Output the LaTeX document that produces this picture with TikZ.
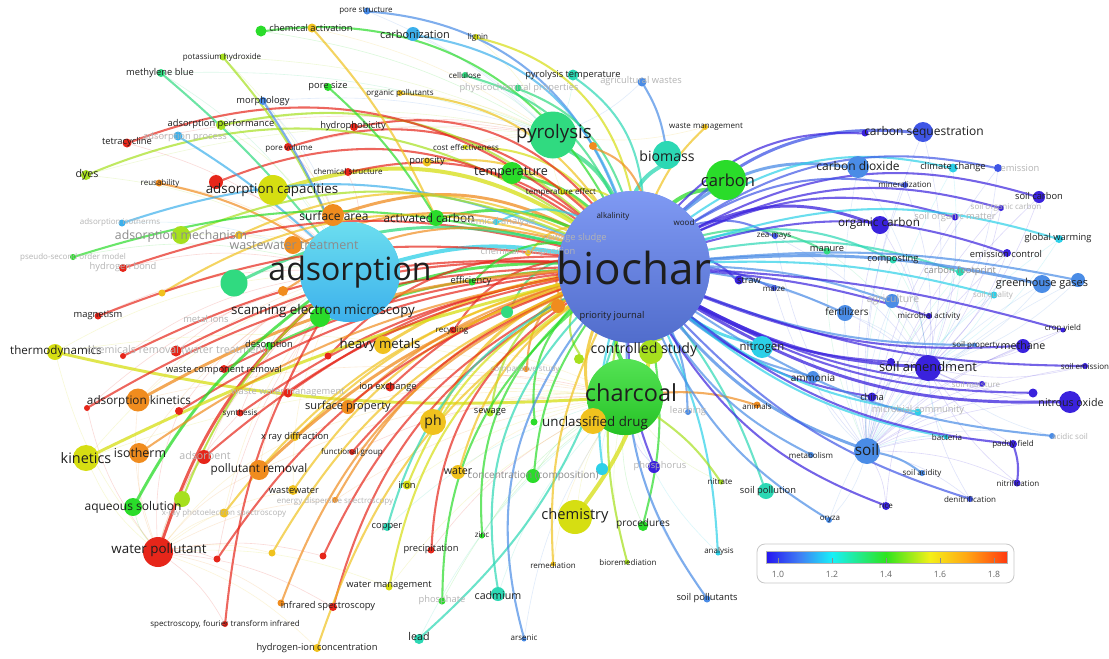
\documentclass[tikz,border=0pt]{standalone}
\usepackage{fontspec}
\setmainfont{Open Sans}
\pgfdeclarelayer{web}
\pgfdeclarelayer{links}
\pgfsetlayers{web,links,main}

% cluster colours (score scale: blue = 1.0 ... red = 1.8)
\definecolor{cV}{HTML}{3A22DD}
\definecolor{cB}{HTML}{3F56E6}
\definecolor{cBc}{HTML}{5F80F0}
\definecolor{cAz}{HTML}{4A8CE6}
\definecolor{cSky}{HTML}{3CB0EC}
\definecolor{cCy}{HTML}{2CD0E8}
\definecolor{cTl}{HTML}{2CD8B4}
\definecolor{cGT}{HTML}{30DA80}
\definecolor{cGr}{HTML}{2ADC2A}
\definecolor{cLm}{HTML}{A6E01E}
\definecolor{cYl}{HTML}{D6DE12}
\definecolor{cGd}{HTML}{F0C21E}
\definecolor{cOr}{HTML}{F08C1E}
\definecolor{cRd}{HTML}{E6261A}
\definecolor{txt}{HTML}{1E1E1E}
\definecolor{fade}{HTML}{B4B4B4}
\definecolor{mid}{HTML}{8C8C8C}

\newcommand\fsz[1]{\fontsize{#1}{#1}\selectfont}
% keyword bubble: [extra]{name}{x}{y}{diameter px}{colour}
\newcommand\kwnode[6][]{\node[kwdot,minimum size=#5*0.75pt,fill=#6,#1] (#2) at (#3,-#4) {};\colorlet{kwc#2}{#6}}
% keyword label: {name}{x}{y}{style}{text}
\newcommand\kwlab[5]{\node[lab,#4] (#1) at (#2,-#3) {#5};}
% links coloured by their source keyword
\newcommand\lnk[3][bend left=24]{\draw[link,draw=kwc#2] (#2) to[#1] (#3);}
\newcommand\mlnk[3][bend left=18]{\draw[midlink,draw=kwc#2] (#2) to[#1] (#3);}
\newcommand\hlnk[3][bend left=15]{\draw[heavy,draw=kwc#2] (#2) to[#1] (#3);}

\tikzset{
  kwdot/.style={circle,inner sep=0pt,outer sep=0pt,draw=none},
  lab/.style={inner sep=0pt,text=txt,font=\fsz{7pt}},
  t1/.style={font=\fsz{6pt}},
  t2/.style={font=\fsz{7pt}},
  t3/.style={font=\fsz{8pt}},
  fs/.style={font=\fsz{#1}},
  fd/.style={text=fade},
  md/.style={text=mid},
  link/.style={line width=1.55pt,opacity=.7,line cap=round},
  midlink/.style={line width=2.2pt,opacity=.75,line cap=round},
  heavy/.style={line width=3pt,opacity=.75,line cap=round},
  faint/.style={line width=.45pt,opacity=.17},
  tick/.style={inner sep=0pt,text=black!60,font=\fsz{6.5pt}}
}

\begin{document}
\begin{tikzpicture}[x=0.75pt,y=0.75pt]
\useasboundingbox (0,0) rectangle (1109,-658);
\clip (0,0) rectangle (1109,-658);

% ---------------- keyword bubbles ----------------
\kwnode[shading=axis,top color=cBc!80!white,bottom color=cBc!85!black]{bc}{634}{267}{152}{cBc}
\kwnode[shading=axis,top color=cCy!70!white,bottom color=cSky]{ads}{350}{272}{100}{cCy}
\kwnode[shading=axis,top color=cGr!80!white,bottom color=cGr!88!black]{cc}{625}{397}{76}{cGr}

\kwnode{porest}{367}{11}{7}{cAz}
\kwnode{gA}{261}{31}{11}{cGr}
\kwnode{chemact}{312}{28}{9}{cGd}
\kwnode{koh}{223}{57}{7}{cLm}
\kwnode{mblue}{161}{73}{8}{cGT}
\kwnode{morph}{263}{101}{8}{cAz}
\kwnode{poresize}{328}{87}{8}{cGr}
\kwnode{orgpol}{400}{93}{6}{cGd}
\kwnode{cellul}{465}{75}{6}{cGT}
\kwnode{lignin}{476}{37}{6}{cYl}
\kwnode{carbz}{413}{34}{14}{cSky}
\kwnode{pyrtemp}{573}{75}{11}{cTl}
\kwnode{phys}{518}{88}{7}{cGT}
\kwnode{agw}{642}{82}{9}{cAz}
\kwnode{wman}{705}{127}{6}{cGd}
\kwnode{pyro}{553}{135}{47}{cGT}
\kwnode{oA}{593}{146}{8}{cOr}
\kwnode{biomass}{667}{155}{28}{cTl}
\kwnode{carbon}{726}{180}{40}{cGr}
\kwnode{costeff}{465}{147}{5}{cYl}
\kwnode{poros}{427}{162}{9}{cGd}
\kwnode{temp}{512}{173}{22}{cGr}
\kwnode{tempeff}{562}{192}{6}{cYl}
\kwnode{hydro}{354}{127}{8}{cRd}
\kwnode{porevol}{288}{147}{8}{cRd}
\kwnode{adsperf}{221}{125}{10}{cLm}
\kwnode{tetra}{127}{143}{9}{cRd}
\kwnode{adsproc}{178}{136}{9}{cSky}
\kwnode{dyes}{86}{175}{10}{cLm}
\kwnode{reus}{159}{183}{7}{cOr}
\kwnode{chemstr}{348}{172}{8}{cRd}
\kwnode{rA}{216}{182}{14}{cRd}
\kwnode{adscap}{273}{190}{30}{cYl}
\kwnode{surfarea}{333}{215}{22}{cOr}
\kwnode{actc}{436}{218}{16}{cGr}
\kwnode{chemanal}{496}{222}{6}{cCy}
\kwnode{chemcomp}{528}{253}{6}{cGd}
\kwnode{adsiso}{122}{223}{7}{cSky}
\kwnode{adsmech}{181}{235}{18}{cLm}
\kwnode{yA}{239}{235}{8}{cGd}
\kwnode{wwt}{293}{245}{18}{cOr}
\kwnode{psso}{73}{257}{6}{cGr}
\kwnode{hbond}{123}{268}{8}{cRd}
\kwnode{gB}{234}{283}{27}{cGT}
\kwnode{oB}{283}{291}{10}{cOr}
\kwnode{oC}{162}{293}{7}{cGd}
\kwnode{sem}{320}{317}{20}{cGr}
\kwnode{magn}{98}{316}{7}{cRd}
\kwnode{thermo}{55}{352}{16}{cYl}
\kwnode{rB}{123}{356}{6}{cRd}
\kwnode{chemrem}{176}{351}{11}{cRd}
\kwnode{desorp}{269}{346}{8}{cGr}
\kwnode{rC}{328}{356}{7}{cRd}
\kwnode{hm}{383}{345}{18}{cGd}
\kwnode{wcr}{224}{369}{8}{cRd}
\kwnode{effic}{472}{282}{7}{cGr}
\kwnode{gC}{507}{312}{12}{cGT}
\kwnode{oD}{558}{306}{14}{cOr}
\kwnode{recyc}{453}{330}{7}{cRd}
\kwnode{ionex}{390}{387}{9}{cRd}
\kwnode{compst}{526}{369}{6}{cOr}
\kwnode{ctrl}{651}{352}{24}{cLm}
\kwnode{gD}{579}{359}{10}{cLm}
\kwnode{adskin}{138}{400}{23}{cOr}
\kwnode{rD}{179}{411}{8}{cRd}
\kwnode{rE}{87}{408}{6}{cRd}
\kwnode{wwm}{288}{393}{9}{cRd}
\kwnode{synth}{240}{413}{7}{cRd}
\kwnode{surfprop}{348}{407}{14}{cOr}
\kwnode{xrd}{295}{437}{8}{cGd}
\kwnode{ph}{433}{422}{26}{cGd}
\kwnode{sewage}{490}{413}{7}{cLm}
\kwnode{gE}{534}{422}{7}{cGr}
\kwnode{unclass}{593}{421}{26}{cGd}
\kwnode{leach}{688}{412}{6}{cAz}
\kwnode{animals}{757}{405}{7}{cOr}
\kwnode{nitro}{762}{347}{22}{cCy}
\kwnode{fert}{845}{313}{16}{cAz}
\kwnode{agri}{892}{301}{14}{cAz}
\kwnode{microact}{929}{316}{6}{cV}
\kwnode{compost}{893}{260}{7}{cTl}
\kwnode{cfoot}{960}{272}{8}{cTl}
\kwnode{manure}{827}{251}{7}{cGT}
\kwnode{zea}{775}{236}{6}{cB}
\kwnode{maize}{774}{288}{6}{cB}
\kwnode{straw}{739}{280}{9}{cV}
\kwnode{orgc}{880}{225}{18}{cV}
\kwnode{som}{955}{217}{7}{cV}
\kwnode{soc}{1001}{208}{6}{cV}
\kwnode{soilc}{1039}{197}{12}{cV}
\kwnode{cseqB}{865}{133}{7}{cV}
\kwnode{cseq}{923}{132}{20}{cB}
\kwnode{co2}{858}{167}{22}{cAz}
\kwnode{climch}{953}{168}{9}{cCy}
\kwnode{emis}{998}{168}{8}{cB}
\kwnode{miner}{905}{185}{6}{cB}
\kwnode{gw}{1059}{239}{8}{cCy}
\kwnode{emctl}{1007}{253}{8}{cV}
\kwnode{ghg}{1042}{284}{18}{cAz}
\kwnode{ghgB}{1078}{280}{14}{cAz}
\kwnode{squal}{994}{295}{7}{cCy}
\kwnode{cropy}{1063}{330}{5}{cV}
\kwnode{sprop}{975}{345}{4}{cAz}
\kwnode{methane}{1023}{346}{14}{cV}
\kwnode{sB}{891}{362}{8}{cV}
\kwnode{samend}{928}{368}{26}{cV}
\kwnode{semis}{1085}{366}{6}{cV}
\kwnode{smoist}{982}{384}{6}{cV}
\kwnode{vA}{1033}{393}{9}{cV}
\kwnode{n2o}{1070}{402}{22}{cV}
\kwnode{ammonia}{813}{377}{12}{cAz}
\kwnode{china}{872}{397}{9}{cV}
\kwnode{microcomm}{918}{412}{7}{cCy}
\kwnode{bact}{946}{437}{5}{cCy}
\kwnode{acid}{1052}{436}{6}{cAz}
\kwnode{paddy}{1013}{444}{8}{cV}
\kwnode{soil}{867}{451}{26}{cAz}
\kwnode{metab}{811}{455}{6}{cAz}
\kwnode{sacid}{922}{473}{6}{cAz}
\kwnode{nitrif}{1017}{483}{7}{cV}
\kwnode{denit}{970}{499}{6}{cB}
\kwnode{rice}{886}{506}{8}{cV}
\kwnode{oryza}{829}{520}{6}{cAz}
\kwnode{spollu}{766}{491}{16}{cTl}
\kwnode{nitrate}{721}{482}{5}{cLm}
\kwnode{phos}{654}{467}{12}{cV}
\kwnode{cyA}{602}{469}{12}{cCy}
\kwnode{analysis}{718}{553}{5}{cCy}
\kwnode{spoll}{707}{599}{7}{cAz}
\kwnode{proced}{643}{526}{10}{cGr}
\kwnode{biorem}{627}{562}{5}{cLm}
\kwnode{chem}{575}{517}{34}{cYl}
\kwnode{remed}{553}{564}{5}{cGd}
\kwnode{conc}{533}{476}{14}{cGr}
\kwnode{water}{458}{472}{14}{cGd}
\kwnode{iron}{407}{485}{9}{cYl}
\kwnode{cadm}{498}{594}{14}{cTl}
\kwnode{arsenic}{524}{639}{5}{cAz}
\kwnode{lead}{419}{639}{10}{cTl}
\kwnode{phosph}{442}{601}{7}{cGr}
\kwnode{zinc}{482}{536}{5}{cGr}
\kwnode{precip}{431}{550}{7}{cRd}
\kwnode{copper}{387}{527}{8}{cTl}
\kwnode{wmg}{389}{587}{7}{cYl}
\kwnode{oE}{281}{603}{7}{cOr}
\kwnode{ir}{333}{607}{8}{cRd}
\kwnode{ftir}{225}{624}{6}{cRd}
\kwnode{hic}{317}{648}{8}{cGd}
\kwnode{yB}{272}{553}{7}{cGd}
\kwnode{rF}{323}{556}{7}{cRd}
\kwnode{rG}{217}{559}{7}{cRd}
\kwnode{wpol}{158}{552}{30}{cRd}
\kwnode{aqs}{133}{507}{18}{cGr}
\kwnode{lmB}{182}{499}{16}{cLm}
\kwnode{kin}{86}{458}{26}{cYl}
\kwnode{iso}{139}{453}{20}{cOr}
\kwnode{adsorbent}{204}{457}{14}{cRd}
\kwnode{pollrem}{259}{470}{20}{cOr}
\kwnode{wwater}{293}{490}{10}{cGd}
\kwnode{eds}{335}{500}{6}{cOr}
\kwnode{xps}{224}{513}{9}{cGd}
\kwnode{funcg}{352}{452}{6}{cRd}

% ---------------- faint co-occurrence web ----------------
\begin{pgfonlayer}{web}
\fill[white] (0,0) rectangle (1109,-658);
\foreach \a in {tetra,dyes,reus,adsperf,mblue,koh,adsiso,adsmech,psso,hbond,magn,thermo,rB,chemrem,wcr,adskin,rE,rD,kin,iso,adsorbent,aqs,lmB,wpol,rG,xps,pollrem,wwater,synth,wwm,desorp,oC,yA,gB,morph,porevol,rA,chemstr}
  {\draw[faint,draw=kwc\a] (\a) to[bend left=12] (ads);}
\foreach \a in {kin,iso,aqs,lmB,adsorbent,xps,yB,rG,rF,oE,ftir,ir,hic,wmg,thermo,adskin,rE,rD,pollrem,wwater,eds,synth,xrd}
  {\draw[faint,draw=kwc\a] (\a) to[bend right=12] (wpol);}
\foreach \a in {ph,sewage,water,iron,conc,copper,zinc,precip,cadm,lead,arsenic,phosph,remed,biorem,proced,chem,spoll,analysis,nitrate,cyA,phos,hm,ionex,surfprop,funcg,eds,wmg,xrd,kin,thermo,adskin,pollrem}
  {\draw[faint,draw=kwc\a] (\a) to[bend left=12] (cc);}
\foreach \a in {cseq,co2,climch,emis,miner,soilc,soc,som,orgc,gw,emctl,ghg,ghgB,squal,cropy,methane,semis,smoist,vA,n2o,paddy,acid,nitrif,denit,rice,oryza,bact,microcomm,china,ammonia,fert,agri,microact,cfoot,compost,manure,zea,maize,sprop,sB}
  {\draw[faint,draw=kwc\a] (\a) to[bend left=12] (samend);
   \draw[faint,draw=kwc\a] (\a) to[bend right=12] (soil);}
\foreach \a in {porest,gA,chemact,koh,mblue,morph,poresize,orgpol,cellul,lignin,carbz,pyrtemp,phys,agw,wman,costeff,poros,tempeff,hydro,porevol,adsperf,tetra,dyes}
  {\draw[faint,draw=kwc\a] (\a) to[bend left=10] (pyro);}
\end{pgfonlayer}

% ---------------- main links ----------------
\begin{pgfonlayer}{links}
% heavy links into biochar
\hlnk{pyro}{bc}
\hlnk[bend right=15]{biomass}{bc}
\hlnk[bend right=15]{carbon}{bc}
\hlnk[bend left=12]{ads}{bc}
\hlnk[bend left=10]{cc}{bc}
\hlnk[bend left=24]{adscap}{bc}
\hlnk[bend right=12]{chem}{ctrl}
\hlnk[bend right=10]{ctrl}{bc}
\mlnk[bend left=15]{temp}{bc}
% upper left
\lnk[bend left=32]{porest}{bc}
\lnk[bend left=34]{gA}{bc}
\lnk[bend left=30]{carbz}{bc}
\lnk[bend left=32]{lignin}{bc}
\lnk{cellul}{bc}
\lnk{orgpol}{bc}
\lnk{phys}{bc}
\lnk{pyrtemp}{bc}
\lnk{costeff}{bc}
\lnk{poros}{bc}
\lnk{tempeff}{bc}
\lnk{oA}{bc}
\lnk[bend right=10]{wman}{bc}
\lnk[bend left=10]{agw}{biomass}
\lnk[bend left=30]{hydro}{bc}
\lnk[bend left=30]{porevol}{bc}
\lnk[bend left=26]{adsperf}{bc}
\lnk[bend left=30]{tetra}{bc}
\lnk[bend left=28]{dyes}{bc}
\lnk[bend left=10]{reus}{ads}
\lnk{chemstr}{bc}
\lnk[bend left=28]{rA}{bc}
\mlnk[bend left=22]{surfarea}{bc}
\mlnk[bend left=18]{actc}{bc}
\lnk{chemanal}{bc}
\lnk{chemcomp}{bc}
\lnk[bend left=8]{chemact}{actc}
\lnk[bend left=8]{koh}{ads}
\lnk[bend left=5]{mblue}{ads}
\lnk[bend left=5]{morph}{ads}
\lnk[bend left=8]{poresize}{actc}
\lnk[bend left=5]{adsproc}{ads}
% middle left
\lnk[bend left=20]{adsiso}{bc}
\lnk[bend left=22]{adsmech}{bc}
\lnk{yA}{bc}
\lnk[bend left=20]{wwt}{bc}
\lnk[bend left=16]{psso}{bc}
\lnk[bend left=16]{hbond}{bc}
\mlnk[bend left=20]{gB}{bc}
\lnk{oB}{bc}
\lnk{oC}{bc}
\mlnk[bend left=12]{sem}{bc}
\lnk[bend left=14]{magn}{bc}
\mlnk[bend right=8]{thermo}{cc}
\lnk[bend left=14]{rB}{bc}
\lnk[bend left=14]{chemrem}{bc}
\lnk[bend left=10]{desorp}{bc}
\lnk{rC}{bc}
\mlnk[bend left=10]{hm}{bc}
\lnk[bend left=10]{wcr}{bc}
\lnk{effic}{bc}
\lnk{gC}{bc}
\lnk{oD}{bc}
\lnk{recyc}{bc}
\lnk[bend left=12]{ionex}{bc}
\lnk{compst}{bc}
\mlnk[bend left=12]{adskin}{bc}
\lnk[bend left=12]{rD}{bc}
\lnk[bend left=14]{rE}{bc}
\lnk[bend left=12]{wwm}{bc}
\lnk[bend left=12]{synth}{bc}
\lnk[bend left=12]{surfprop}{bc}
\lnk[bend left=14]{xrd}{bc}
\mlnk{ph}{bc}
\lnk{sewage}{bc}
\lnk{gE}{bc}
\mlnk{unclass}{bc}
\lnk{gD}{bc}
\lnk[bend right=10]{leach}{bc}
% lower left
\mlnk[bend left=14]{wpol}{ads}
\mlnk[bend left=12]{aqs}{ads}
\lnk[bend left=12]{lmB}{ads}
\mlnk[bend left=6]{kin}{bc}
\lnk[bend left=12]{iso}{bc}
\lnk[bend left=14]{adsorbent}{bc}
\mlnk[bend left=12]{pollrem}{bc}
\lnk[bend left=18]{wwater}{bc}
\lnk[bend left=18]{eds}{bc}
\lnk[bend left=18]{xps}{bc}
\lnk[bend left=12]{funcg}{bc}
\lnk[bend left=12]{ftir}{ads}
\lnk[bend left=22]{oE}{bc}
\lnk[bend left=22]{ir}{bc}
\lnk[bend left=18]{hic}{bc}
\lnk[bend left=18]{yB}{bc}
\lnk[bend left=18]{rF}{bc}
\lnk[bend left=18]{rG}{bc}
\lnk[bend left=22]{wmg}{bc}
\lnk[bend left=22]{copper}{bc}
\lnk[bend left=26]{precip}{bc}
\lnk[bend left=26]{zinc}{bc}
\lnk[bend left=24]{phosph}{bc}
\lnk[bend right=15]{lead}{bc}
\lnk[bend left=26]{arsenic}{bc}
\lnk[bend left=26]{cadm}{bc}
\lnk[bend left=18]{iron}{bc}
\lnk[bend left=18]{water}{bc}
\lnk[bend left=14]{conc}{bc}
\lnk[bend left=14]{remed}{bc}
\lnk[bend left=12]{biorem}{bc}
\lnk[bend right=12]{proced}{bc}
\lnk[bend left=18]{spoll}{bc}
\lnk[bend right=10]{analysis}{bc}
\lnk[bend left=10]{cyA}{bc}
\lnk[bend left=10]{phos}{bc}
\lnk[bend right=10]{nitrate}{cc}
\lnk[bend right=8]{spollu}{bc}
% right side, upper
\mlnk[bend left=10]{nitro}{bc}
\lnk[bend right=10]{animals}{cc}
\lnk[bend right=22]{zea}{bc}
\lnk[bend right=20]{manure}{bc}
\lnk[bend right=20]{compost}{bc}
\mlnk[bend right=22]{orgc}{bc}
\lnk[bend right=20]{som}{bc}
\lnk[bend right=20]{soc}{bc}
\lnk[bend right=22]{soilc}{bc}
\mlnk[bend right=24]{cseq}{bc}
\lnk[bend right=24]{cseqB}{bc}
\mlnk[bend right=24]{co2}{bc}
\lnk[bend right=24]{climch}{bc}
\lnk[bend right=22]{emis}{bc}
\lnk[bend right=20]{miner}{bc}
\lnk[bend right=17]{gw}{bc}
\lnk[bend right=17]{emctl}{bc}
\lnk[bend right=14]{cfoot}{bc}
\lnk[bend right=12]{straw}{bc}
\lnk[bend right=8]{maize}{bc}
\lnk[bend right=8]{fert}{bc}
\lnk[bend right=8]{agri}{bc}
\lnk[bend right=6]{microact}{bc}
\mlnk[bend right=8]{ghg}{bc}
\lnk[bend right=8]{ghgB}{bc}
\lnk[bend right=8]{squal}{bc}
\lnk[bend right=6]{cropy}{bc}
% right side, lower
\lnk[bend left=10]{sprop}{bc}
\lnk[bend left=12]{methane}{bc}
\mlnk[bend left=12]{samend}{bc}
\lnk[bend left=12]{sB}{bc}
\lnk[bend left=10]{semis}{bc}
\lnk[bend left=12]{smoist}{bc}
\lnk[bend left=14]{vA}{bc}
\mlnk[bend left=16]{n2o}{bc}
\lnk[bend left=12]{ammonia}{bc}
\lnk[bend left=14]{china}{bc}
\lnk[bend left=14]{microcomm}{bc}
\lnk[bend left=14]{bact}{bc}
\lnk[bend left=14]{acid}{bc}
\lnk[bend left=16]{paddy}{bc}
\lnk[bend left=12]{paddy}{nitrif}
\mlnk[bend left=14]{soil}{bc}
\lnk[bend left=14]{metab}{bc}
\lnk[bend right=12]{sacid}{soil}
\lnk[bend left=14]{denit}{bc}
\lnk[bend left=18]{rice}{bc}
\lnk[bend left=16]{oryza}{bc}
\end{pgfonlayer}

% ---------------- labels ----------------
\kwlab{porest-l}{366}{11}{t1}{pore structure}
\kwlab{chemact-l}{311}{28}{t2}{chemical activation}
\kwlab{koh-l}{222}{57}{t1}{potassium hydroxide}
\kwlab{mblue-l}{160}{73}{t2}{methylene blue}
\kwlab{morph-l}{263}{101}{t2}{morphology}
\kwlab{poresize-l}{328}{86}{t2}{pore size}
\kwlab{orgpol-l}{400}{93}{t1}{organic pollutants}
\kwlab{cellul-l}{465}{75}{t1}{cellulose}
\kwlab{lignin-l}{478}{37}{t1}{lignin}
\kwlab{carbz-l}{415}{34}{fs=8.2pt}{carbonization}
\kwlab{pyrtemp-l}{573}{75}{t2}{pyrolysis temperature}
\kwlab{phys-l}{519}{88}{t2,fd}{physicochemical properties}
\kwlab{agw-l}{641}{81}{t2,fd}{agricultural wastes}
\kwlab{wman-l}{706}{127}{t1}{waste management}
\kwlab{pyro-l}{554}{134}{fs=14pt}{pyrolysis}
\kwlab{biomass-l}{667}{156}{fs=10.6pt}{biomass}
\kwlab{carbon-l}{728}{180}{fs=12.4pt}{carbon}
\kwlab{costeff-l}{466}{147}{t1}{cost effectiveness}
\kwlab{poros-l}{427}{161}{t2}{porosity}
\kwlab{temp-l}{511}{173}{fs=9.4pt}{temperature}
\kwlab{tempeff-l}{561}{192}{t1}{temperature effect}
\kwlab{hydro-l}{353}{126}{t2}{hydrophobicity}
\kwlab{porevol-l}{289}{148}{t1}{pore volume}
\kwlab{adsperf-l}{221}{124}{t2}{adsorption performance}
\kwlab{tetra-l}{127}{142}{t2}{tetracycline}
\kwlab{adsproc-l}{185}{137}{t2,fd}{adsorption process}
\kwlab{dyes-l}{87}{175}{t3}{dyes}
\kwlab{reus-l}{160}{183}{t1}{reusability}
\kwlab{chemstr-l}{348}{171}{t1}{chemical structure}
\kwlab{adscap-l}{272}{190}{fs=10pt}{adsorption capacities}
\kwlab{surfarea-l}{334}{216}{fs=9pt}{surface area}
\kwlab{actc-l}{429}{218}{fs=8.8pt}{activated carbon}
\kwlab{chemanal-l}{498}{222}{t2,fd}{chemical analysis}
\kwlab{sewsl-l}{575}{238}{t2,fd}{sewage sludge}
\kwlab{chemcomp-l}{528}{252}{t2,fd}{chemical composition}
\kwlab{alk-l}{613}{216}{t1}{alkalinity}
\kwlab{wood-l}{684}{222}{t1}{wood}
\kwlab{bc-l}{634}{268}{fs=33pt}{biochar}
\kwlab{prj-l}{612}{316}{t2}{priority journal}
\kwlab{ads-l}{350}{272}{fs=24pt}{adsorption}
\kwlab{adsiso-l}{120}{222}{t1,fd}{adsorption isotherms}
\kwlab{adsmech-l}{181}{236}{fs=9.2pt,md}{adsorption mechanism}
\kwlab{wwt-l}{294}{245}{fs=9.4pt,md}{wastewater treatment}
\kwlab{psso-l}{73}{257}{t1,fd}{pseudo-second order model}
\kwlab{hbond-l}{123}{267}{t2,fd}{hydrogen bond}
\kwlab{sem-l}{323}{311}{fs=10pt}{scanning electron microscopy}
\kwlab{magn-l}{98}{315}{t2}{magnetism}
\kwlab{metions-l}{206}{319}{t2,fd}{metal ions}
\kwlab{thermo-l}{56}{351}{fs=8.7pt}{thermodynamics}
\kwlab{chemrem-l}{178}{350}{t3,fd}{chemicals removal (water treatment)}
\kwlab{desorp-l}{269}{345}{t2}{desorption}
\kwlab{hm-l}{380}{345}{fs=9.9pt}{heavy metals}
\kwlab{wcr-l}{224}{370}{t2}{waste component removal}
\kwlab{effic-l}{471}{281}{t2}{efficiency}
\kwlab{recyc-l}{452}{330}{t1}{recycling}
\kwlab{ionex-l}{388}{387}{t2}{ion exchange}
\kwlab{compst-l}{525}{369}{t1,fd}{comparative study}
\kwlab{ctrl-l}{644}{350}{fs=10.6pt}{controlled study}
\kwlab{cc-l}{631}{393}{fs=17.6pt}{charcoal}
\kwlab{adskin-l}{139}{401}{fs=8.8pt}{adsorption kinetics}
\kwlab{wwm-l}{288}{393}{t2,fd}{waste water management}
\kwlab{synth-l}{240}{413}{t1}{synthesis}
\kwlab{surfprop-l}{348}{407}{fs=8.3pt}{surface property}
\kwlab{xrd-l}{295}{437}{t2}{x ray diffraction}
\kwlab{ph-l}{433}{422}{fs=10.5pt}{ph}
\kwlab{sewage-l}{490}{412}{t2}{sewage}
\kwlab{unclass-l}{595}{423}{fs=10pt}{unclassified drug}
\kwlab{leach-l}{688}{411}{t2,fd}{leaching}
\kwlab{animals-l}{757}{406}{t1}{animals}
\kwlab{nitro-l}{762}{348}{fs=8.5pt}{nitrogen}
\kwlab{fert-l}{847}{312}{fs=7.5pt}{fertilizers}
\kwlab{agri-l}{893}{300}{fs=7.8pt,fd}{agriculture}
\kwlab{microact-l}{929}{316}{t1}{microbial activity}
\kwlab{compost-l}{893}{259}{t2}{composting}
\kwlab{cfoot-l}{960}{271}{t2,md}{carbon footprint}
\kwlab{manure-l}{827}{249}{t2}{manure}
\kwlab{zea-l}{774}{236}{t1}{zea mays}
\kwlab{maize-l}{774}{289}{t1}{maize}
\kwlab{straw-l}{749}{280}{t2}{straw}
\kwlab{orgc-l}{879}{223}{fs=8.8pt}{organic carbon}
\kwlab{som-l}{955}{217}{t2,fd}{soil organic matter}
\kwlab{soc-l}{1006}{207}{t1,fd}{soil organic carbon}
\kwlab{soilc-l}{1039}{196}{t2}{soil carbon}
\kwlab{cseq-l}{924}{132}{fs=9pt}{carbon sequestration}
\kwlab{co2-l}{858}{166}{fs=9pt}{carbon dioxide}
\kwlab{climch-l}{953}{167}{t2}{climate change}
\kwlab{emis-l}{1020}{168}{t2,fd}{emission}
\kwlab{miner-l}{905}{184}{t1}{mineralization}
\kwlab{gw-l}{1058}{238}{t2}{global warming}
\kwlab{emctl-l}{1006}{254}{t2}{emission control}
\kwlab{ghg-l}{1042}{284}{fs=8.2pt}{greenhouse gases}
\kwlab{squal-l}{993}{295}{t1,fd}{soil quality}
\kwlab{cropy-l}{1063}{328}{t1}{crop yield}
\kwlab{sprop-l}{976}{345}{t1}{soil property}
\kwlab{methane-l}{1023}{345}{fs=8pt}{methane}
\kwlab{samend-l}{928}{367}{fs=9.7pt}{soil amendment}
\kwlab{semis-l}{1085}{366}{t1}{soil emission}
\kwlab{smoist-l}{976}{384}{t1,fd}{soil moisture}
\kwlab{n2o-l}{1071}{402}{fs=8pt}{nitrous oxide}
\kwlab{ammonia-l}{813}{378}{fs=7.5pt}{ammonia}
\kwlab{china-l}{872}{397}{t2}{china}
\kwlab{microcomm-l}{918}{410}{t2,fd}{microbial community}
\kwlab{bact-l}{947}{437}{t1}{bacteria}
\kwlab{acid-l}{1070}{436}{t1,fd}{acidic soil}
\kwlab{paddy-l}{1013}{444}{t1}{paddy field}
\kwlab{soil-l}{867}{450}{fs=11.5pt}{soil}
\kwlab{metab-l}{811}{455}{t1}{metabolism}
\kwlab{sacid-l}{922}{473}{t1}{soil acidity}
\kwlab{nitrif-l}{1018}{483}{t1}{nitrification}
\kwlab{denit-l}{970}{499}{t1}{denitrification}
\kwlab{rice-l}{886}{506}{t1}{rice}
\kwlab{oryza-l}{830}{519}{t1}{oryza}
\kwlab{spollu-l}{768}{491}{t2}{soil pollution}
\kwlab{nitrate-l}{720}{482}{t1}{nitrate}
\kwlab{phos-l}{660}{466}{t2,fd}{phosphorus}
\kwlab{analysis-l}{719}{551}{t1}{analysis}
\kwlab{spoll-l}{707}{598}{t2}{soil pollutants}
\kwlab{proced-l}{643}{524}{fs=7.6pt}{procedures}
\kwlab{biorem-l}{628}{562}{t1}{bioremediation}
\kwlab{chem-l}{575}{516}{fs=11pt}{chemistry}
\kwlab{remed-l}{553}{565}{t1}{remediation}
\kwlab{conc-l}{533}{476}{fs=7.5pt,md}{concentration (composition)}
\kwlab{water-l}{458}{471}{t3}{water}
\kwlab{iron-l}{407}{485}{t2}{iron}
\kwlab{cadm-l}{498}{595}{t3}{cadmium}
\kwlab{arsenic-l}{524}{638}{t1}{arsenic}
\kwlab{lead-l}{419}{636}{t3}{lead}
\kwlab{phosph-l}{442}{600}{t2,fd}{phosphate}
\kwlab{zinc-l}{482}{535}{t1}{zinc}
\kwlab{precip-l}{431}{549}{t2}{precipitation}
\kwlab{copper-l}{387}{527}{t2}{copper}
\kwlab{wmg-l}{389}{586}{t2}{water management}
\kwlab{ir-l}{328}{606}{t2}{infrared spectroscopy}
\kwlab{ftir-l}{225}{624}{t1}{spectroscopy, fourier transform infrared}
\kwlab{hic-l}{317}{648}{t2}{hydrogen-ion concentration}
\kwlab{wpol-l}{159}{550}{fs=10pt}{water pollutant}
\kwlab{aqs-l}{133}{507}{fs=9pt}{aqueous solution}
\kwlab{kin-l}{86}{458}{fs=10.8pt}{kinetics}
\kwlab{iso-l}{140}{453}{fs=9.3pt}{isotherm}
\kwlab{adsorbent-l}{205}{455}{fs=8pt,fd}{adsorbent}
\kwlab{pollrem-l}{259}{469}{fs=8.8pt}{pollutant removal}
\kwlab{wwater-l}{294}{490}{t2}{wastewater}
\kwlab{eds-l}{335}{501}{t1,fd}{energy dispersive spectroscopy}
\kwlab{xps-l}{224}{513}{t1,fd}{x-ray photoelectron spectroscopy}
\kwlab{funcg-l}{352}{452}{t1}{functional group}

% ---------------- colour scale ----------------
\node[draw=black!22,fill=white,rounded corners=6pt,line width=.6pt,
      minimum width=257*0.75pt,minimum height=39*0.75pt,inner sep=0pt]
      (legend) at (885.5,-563.5) {};
\shade[left color={rgb,255:red,36;green,20;blue,240},right color={rgb,255:red,63;green,127;blue,245}] (766,-551) rectangle (800,-563);
\shade[left color={rgb,255:red,63;green,127;blue,245},right color={rgb,255:red,24;green,240;blue,248}] (800,-551) rectangle (832,-563);
\shade[left color={rgb,255:red,24;green,240;blue,248},right color={rgb,255:red,46;green,228;blue,30}] (832,-551) rectangle (886,-563);
\shade[left color={rgb,255:red,46;green,228;blue,30},right color={rgb,255:red,244;green,240;blue,24}] (886,-551) rectangle (930,-563);
\shade[left color={rgb,255:red,244;green,240;blue,24},right color={rgb,255:red,255;green,168;blue,20}] (930,-551) rectangle (966,-563);
\shade[left color={rgb,255:red,255;green,168;blue,20},right color={rgb,255:red,255;green,58;blue,16}] (966,-551) rectangle (1007,-563);
\draw[black!30,line width=.4pt] (766,-551) rectangle (1007,-563);
\foreach \xx in {778,832,886,940,994} {\draw[black!45,line width=.5pt] (\xx,-558) -- (\xx,-563);}
\node[tick] (tk10) at (778,-574) {1.0};
\node[tick] (tk12) at (832,-574) {1.2};
\node[tick] (tk14) at (886,-574) {1.4};
\node[tick] (tk16) at (940,-574) {1.6};
\node[tick] (tk18) at (994,-574) {1.8};
\end{tikzpicture}
\end{document}
